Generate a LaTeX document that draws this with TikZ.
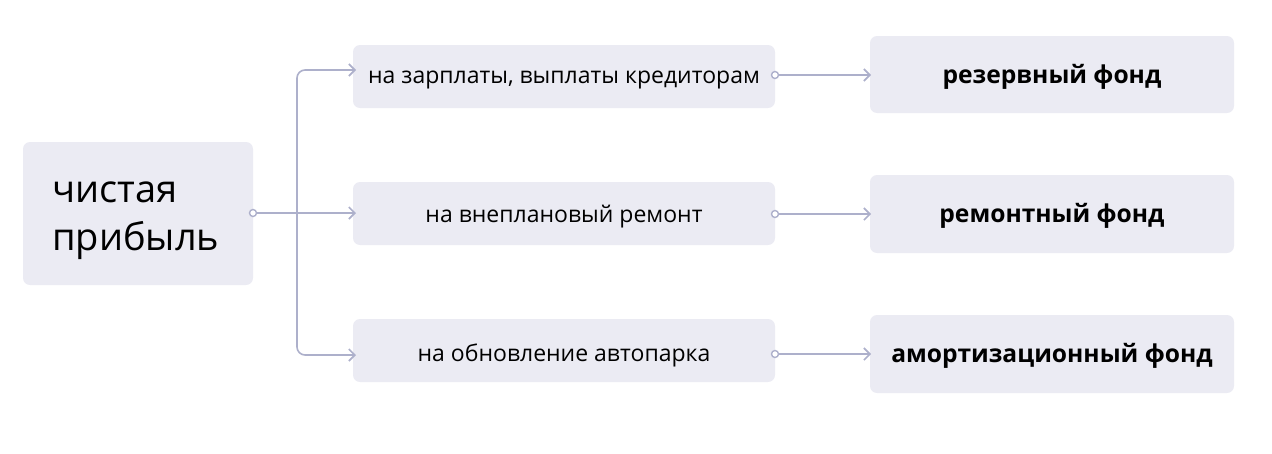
\documentclass[tikz,border=0pt]{standalone}
\usepackage{fontspec}
\setmainfont{Open Sans}
\usetikzlibrary{arrows.meta}
\definecolor{boxfill}{HTML}{EBEBF3}
\definecolor{linec}{HTML}{ADB0CB}
\begin{document}
\begin{tikzpicture}[x=1pt,y=-1pt,
  box/.style={fill=boxfill,rounded corners=7pt},
  conn/.style={draw=linec,line width=1.6pt,-{Straight Barb[length=6pt,width=12pt,line width=1.6pt]}},
  dot/.style={circle,draw=linec,fill=white,line width=1.4pt,inner sep=0pt,minimum size=7pt},
  midtxt/.style={font=\fontsize{23}{27}\selectfont},
  rtxt/.style={font=\bfseries\fontsize{24.6}{29}\selectfont}]
\useasboundingbox (0,0) rectangle (1272,453);
% boxes
\fill[box] (23,142) rectangle (253,285);
\fill[box] (353,45) rectangle (775,108);
\fill[box] (353,182) rectangle (775,245);
\fill[box] (353,319) rectangle (775,382);
\fill[box] (870,36) rectangle (1234,113);
\fill[box] (870,175) rectangle (1234,253);
\fill[box] (870,315) rectangle (1234,393);
% texts
\node[anchor=west,align=left,font=\fontsize{38}{48}\selectfont,inner sep=0pt] (src) at (52,221) {чистая\\прибыль};
\node[midtxt] (m1) at (564,80) {на зарплаты, выплаты кредиторам};
\node[midtxt] (m2) at (564,217) {на внеплановый ремонт};
\node[midtxt] (m3) at (564,355) {на обновление автопарка};
\node[rtxt] (r1) at (1052,77) {резервный фонд};
\node[rtxt] (r2) at (1052,216) {ремонтный фонд};
\node[rtxt] (r3) at (1052,356) {амортизационный фонд};
% connection points
\coordinate (s0) at (253,213);
\coordinate (a1) at (356,70);
\coordinate (a2) at (356,213);
\coordinate (a3) at (356,355);
\coordinate (o1) at (775,75);
\coordinate (o2) at (775,214);
\coordinate (o3) at (775,354);
\coordinate (t1) at (871,75);
\coordinate (t2) at (871,214);
\coordinate (t3) at (871,354);
% connectors
\draw[conn] (s0) -- (a2);
\draw[conn,rounded corners=8pt] (297,213) |- (a1);
\draw[conn,rounded corners=8pt] (297,213) |- (a3);
\draw[conn] (o1) -- (t1);
\draw[conn] (o2) -- (t2);
\draw[conn] (o3) -- (t3);
\node[dot] at (s0) {};
\node[dot] at (o1) {};
\node[dot] at (o2) {};
\node[dot] at (o3) {};
\end{tikzpicture}
\end{document}
